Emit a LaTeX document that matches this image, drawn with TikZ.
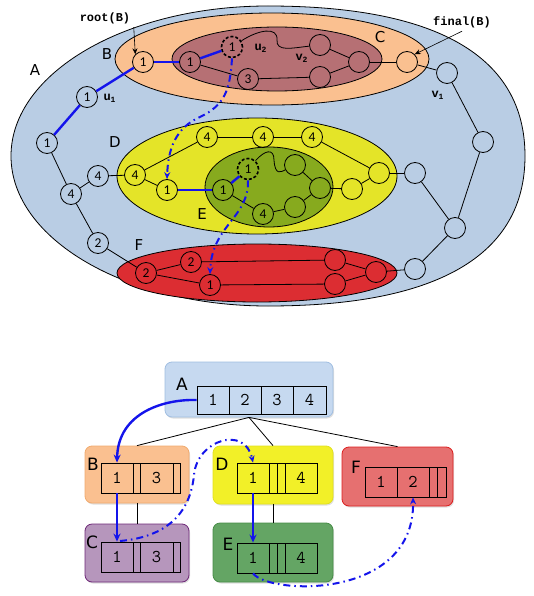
\documentclass[tikz,border=0pt]{standalone}
\usepackage{fontspec}
\setsansfont{DejaVu Sans}
\newfontfamily\numf{Carlito}
\newfontfamily\cour{Liberation Mono}
\usetikzlibrary{arrows.meta,shadows}
\definecolor{cA}{RGB}{185,205,228}
\definecolor{cB}{RGB}{250,192,144}
\definecolor{cC}{RGB}{182,112,116}
\definecolor{cD}{RGB}{228,228,40}
\definecolor{cE}{RGB}{135,170,30}
\definecolor{cF}{RGB}{220,45,50}
\definecolor{bA}{RGB}{198,217,240}
\definecolor{bAd}{RGB}{160,190,225}
\definecolor{bB}{RGB}{250,192,144}
\definecolor{bBd}{RGB}{240,170,110}
\definecolor{bC}{RGB}{182,150,188}
\definecolor{bCd}{RGB}{110,40,120}
\definecolor{bD}{RGB}{242,240,40}
\definecolor{bDd}{RGB}{225,225,30}
\definecolor{bE}{RGB}{100,165,100}
\definecolor{bEd}{RGB}{70,140,70}
\definecolor{bF}{RGB}{230,112,112}
\definecolor{bFd}{RGB}{220,30,30}
\definecolor{blu}{RGB}{20,20,235}
\begin{document}
\begin{tikzpicture}[x=1pt,y=-1pt,
  v/.style={circle,draw,line width=0.8pt,minimum size=21pt,inner sep=0pt,font=\numf\fontsize{13.5}{13.5}\selectfont},
  dv/.style={v,line width=1.6pt,dash pattern=on 3pt off 2pt},
  ed/.style={line width=0.8pt},
  bl/.style={draw=blu,line width=2.4pt},
  bla/.style={draw=blu,line width=2.4pt,-{Stealth[length=8pt,width=7pt]}},
  bld/.style={draw=blu,line width=2pt,dash pattern=on 7pt off 4pt on 1.5pt off 4pt,-{Stealth[length=7pt,width=6pt]}},
  lab/.style={font=\sffamily\fontsize{15}{15}\selectfont},
  blab/.style={font=\sffamily\fontsize{17}{17}\selectfont},
  ann/.style={font=\cour\bfseries\fontsize{12}{12}\selectfont},
  box/.style={rounded corners=7pt,draw,line width=0.8pt,inner sep=0pt,
    drop shadow={opacity=0.25,shadow xshift=1pt,shadow yshift=-1.5pt}},
  cell/.style={draw,line width=0.8pt,minimum height=30pt,inner sep=0pt,font=\ttfamily\fontsize{18}{18}\selectfont}]
\useasboundingbox (0,0) rectangle (534,596);

% ---------- top: nested regions ----------
\draw[ed,fill=cA] (525,156) .. controls (525,255) and (438,306) .. (268,306)
  .. controls (126,306) and (11,239) .. (11,156)
  .. controls (11,73) and (126,6) .. (268,6)
  .. controls (438,6) and (525,57) .. (525,156) -- cycle;
\draw[ed,fill=cB] (272,59) ellipse [x radius=157,y radius=46];
\draw[ed,fill=cC] (277,59) ellipse [x radius=105,y radius=32];
\draw[ed,fill=cD] (257,176) ellipse [x radius=140,y radius=58];
\draw[ed,fill=cE] (269,187) ellipse [x radius=64,y radius=40];
\draw[ed,fill=cF] (257,273) ellipse [x radius=140,y radius=29];

\node[lab] (lA) at (35,70) {A};
\node[lab] (lB) at (107,54) {B};
\node[lab] (lC) at (380,37) {C};
\node[lab] (lD) at (115,142) {D};
\node[lab] (lE) at (202,214) {E};
\node[lab] (lF) at (139,245) {F};

% nodes
\node[v] (root) at (143,62) {1};
\node[v] (c1) at (190,62) {1};
\node[dv] (dC) at (232,47) {1};
\node[v] (c3) at (248,79) {3};
\node[v] (ca) at (320,45) {};
\node[v] (cb) at (320,77) {};
\node[v] (cc) at (359,62) {};
\node[v] (fin) at (407,62) {};
\node[v] (v1) at (447,73) {};
\node[v] (ar1) at (483,142) {};
\node[v] (ar2) at (455,228) {};
\node[v] (ar3) at (415,173) {};
\node[v] (ar4) at (415,269) {};
\node[v] (u1) at (87,97) {1};
\node[v] (l1) at (47,143) {1};
\node[v] (l4) at (71,194) {4};
\node[v] (l4b) at (98,176) {4};
\node[v] (l2) at (98,243) {2};
\node[v] (dL) at (135,175) {4};
\node[v] (d4a) at (207,137) {4};
\node[v] (d4b) at (263,137) {4};
\node[v] (d4c) at (312,137) {4};
\node[v] (dR) at (379,173) {};
\node[v] (d1) at (167,190) {1};
\node[v] (dm) at (352,189) {};
\node[v] (e1) at (223,190) {1};
\node[dv] (dE) at (248,169) {1};
\node[v] (e4) at (263,214) {4};
\node[v] (ea) at (295,165) {};
\node[v] (eb) at (295,207) {};
\node[v] (ec) at (320,188) {};
\node[v] (fL) at (146,273) {2};
\node[v] (f2) at (191,262) {2};
\node[v] (f1) at (210,285) {1};
\node[v] (fa) at (335,260) {};
\node[v] (fb) at (335,284) {};
\node[v] (fR) at (376,272) {};

% labels
\node[ann,anchor=west] (tu1) at (100,98) {u\textsubscript{1}};
\node[ann,anchor=west] (tu2) at (251,48) {u\textsubscript{2}};
\node[ann,anchor=west] (tv2) at (292,58) {v\textsubscript{2}};
\node[ann,anchor=west] (tv1) at (428,95) {v\textsubscript{1}};
\node[ann] (troot) at (105,18) {root(B)};
\node[ann] (tfin) at (462,22) {final(B)};
\draw[line width=0.6pt,-{Stealth[length=6pt,width=5pt]}] (troot.south east) -- (root.north west);
\draw[line width=0.6pt,-{Stealth[length=6pt,width=5pt]}] (tfin.south) -- (fin.north east);

% black edges
\foreach \a/\b in {c1/c3,c3/cb,ca/cc,cb/cc,cc/fin,fin/v1,v1/ar1,ar1/ar2,ar2/ar3,ar2/ar4,ar3/dR,ar4/fR,
  l1/l4,l4/l4b,l4b/dL,l4/l2,l2/fL,dL/d4a,d4a/d4b,d4b/d4c,d4c/dR,dL/d1,ec/dm,dm/dR,
  e1/e4,e4/eb,ea/ec,eb/ec,fL/f2,f2/fa,fa/fR,fL/f1,f1/fb,fb/fR}
  \draw[ed] (\a) -- (\b);
% squiggles
\draw[ed] (dC) .. controls (258,30) and (278,26) .. (277,40) .. controls (276,52) and (292,48) .. (ca);
\draw[ed] (dE) .. controls (265,150) and (274,148) .. (274,160) .. controls (275,176) and (281,172) .. (ea);
% blue solid
\draw[bl] (root) -- (c1);
\draw[bl] (c1) -- (dC);
\draw[bl] (root) -- (u1);
\draw[bl] (u1) -- (l1);
\draw[bl] (d1) -- (e1);
\draw[bl] (e1) -- (dE);
% blue dash-dot
\draw[bld] (dC.south) .. controls (230,90) and (225,105) .. (200,117) .. controls (175,128) and (168,150) .. (d1.north);
\draw[bld] (dE.south) .. controls (249,218) and (212,225) .. (f1.north);

% ---------- bottom: tree ----------
\node[box,fill=bA,draw=bAd,minimum width=168pt,minimum height=55pt] (bxA) at (249,389.5) {};
\node[box,fill=bB,draw=bBd,minimum width=104pt,minimum height=57pt] (bxB) at (137,474.5) {};
\node[box,fill=bC,draw=bCd,minimum width=104pt,minimum height=58pt] (bxC) at (137,553) {};
\node[box,fill=bD,draw=bDd,minimum width=120pt,minimum height=58pt] (bxD) at (273,475) {};
\node[box,fill=bE,draw=bEd,minimum width=120pt,minimum height=59pt] (bxE) at (273,552.5) {};
\node[box,fill=bF,draw=bFd,minimum width=111pt,minimum height=59pt] (bxF) at (397.5,476.5) {};

\draw[ed] (bxA.south) -- (bxB.north);
\draw[ed] (bxA.south) -- (bxD.north);
\draw[ed] (bxA.south) -- (bxF.north);
\draw[ed] (bxB.south) -- (bxC.north);
\draw[ed] (bxD.south) -- (bxE.north);

\node[blab] (tA) at (182,384) {A};
\node[blab] (tB) at (93,464) {B};
\node[blab] (tC) at (92,542) {C};
\node[blab] (tD) at (222,464) {D};
\node[blab] (tE) at (228,544) {E};
\node[blab] (tF) at (356,467) {F};

% cells A
\node[cell,minimum width=32pt,minimum height=28pt] (A1) at (213,400) {1};
\node[cell,minimum width=32pt,minimum height=28pt] (A2) at (245,400) {2};
\node[cell,minimum width=32pt,minimum height=28pt] (A3) at (277,400) {3};
\node[cell,minimum width=33pt,minimum height=28pt] (A4) at (309.5,400) {4};
% cells B
\node[cell,minimum width=32pt] (B1) at (117,478) {1};
\node[cell,minimum width=7pt] (B2) at (136.5,478) {};
\node[cell,minimum width=33pt] (B3) at (156.5,478) {3};
\node[cell,minimum width=7pt] (B4) at (176.5,478) {};
% cells C
\node[cell,minimum width=32pt] (C1) at (117,557) {1};
\node[cell,minimum width=7pt] (C2) at (136.5,557) {};
\node[cell,minimum width=33pt] (C3) at (156.5,557) {3};
\node[cell,minimum width=7pt] (C4) at (176.5,557) {};
% cells D
\node[cell,minimum width=32pt] (D1) at (253,478) {1};
\node[cell,minimum width=8pt] (D2) at (273,478) {};
\node[cell,minimum width=8pt] (D3) at (281,478) {};
\node[cell,minimum width=32pt] (D4) at (301,478) {4};
% cells E
\node[cell,minimum width=32pt] (E1) at (253,558) {1};
\node[cell,minimum width=8pt] (E2) at (273,558) {};
\node[cell,minimum width=8pt] (E3) at (281,558) {};
\node[cell,minimum width=32pt] (E4) at (301,558) {4};
% cells F
\node[cell,minimum width=32pt] (F1) at (381,482) {1};
\node[cell,minimum width=32pt] (F2) at (413,482) {2};
\node[cell,minimum width=8pt] (F3) at (433,482) {};
\node[cell,minimum width=9pt] (F4) at (441.5,482) {};

% blue arrows bottom
\draw[bla] (A1.west) .. controls (165,399) and (118,412) .. (B1.north);
\draw[bla] (B1.south) -- (C1.north);
\draw[bla] (D1.south) -- (E1.north);
\coordinate (cs) at (120,541);
\draw[bld] (cs) .. controls (165,537) and (190,515) .. (194,475) .. controls (197,440) and (245,425) .. (D1.north);
\draw[bld] (E1.south) .. controls (270,595) and (415,600) .. (F2.south);
\end{tikzpicture}
\end{document}
